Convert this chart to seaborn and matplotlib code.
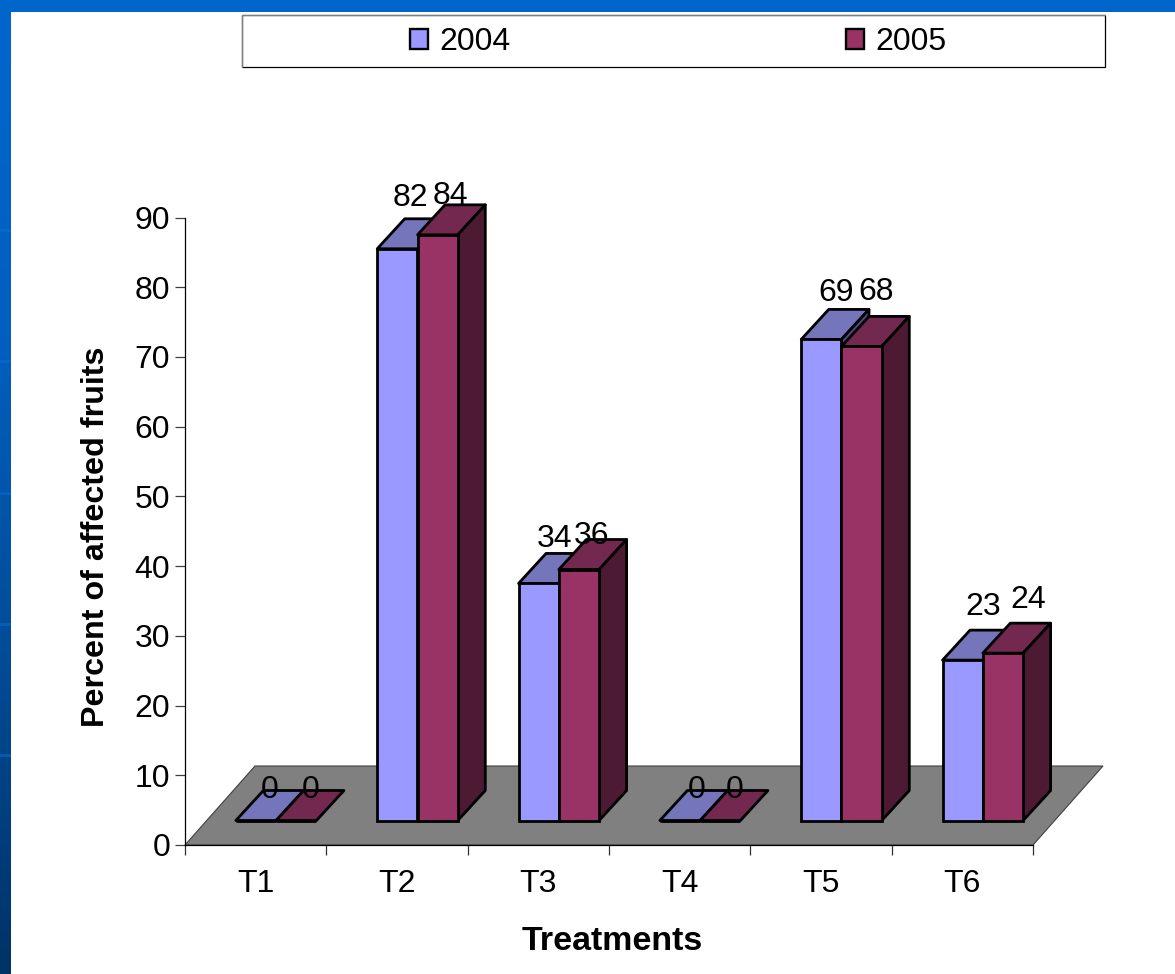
import numpy as np
import pandas as pd
import matplotlib
matplotlib.use("Agg")
import matplotlib.pyplot as plt
from matplotlib.colors import LinearSegmentedColormap
from matplotlib.patches import Patch, Polygon, Rectangle
from matplotlib.ticker import FixedLocator, NullFormatter
import seaborn as sns

# Chart values
treatments = ["T1", "T2", "T3", "T4", "T5", "T6"]
years = ["2004", "2005"]
values_2004 = [0, 82, 34, 0, 69, 23]
values_2005 = [0, 84, 36, 0, 68, 24]
y_ticks = list(range(0, 100, 10))

# Colours per series: front, top and side faces
front_colors = {"2004": "#9999FF", "2005": "#993366"}
top_colors = {"2004": "#7575BB", "2005": "#72284F"}
side_colors = {"2004": "#4D4D80", "2005": "#4D1A33"}

# Hand placement of the value labels relative to each bar top, in pixels
label_dx_2004 = [14, 13, 16, 17, 15, 20]
label_dx_2005 = [14, 13, 13, 14, 14, 25]
label_dy_2004 = [30, 51, 44, 30, 46, 53]
label_dy_2005 = [30, 39, 34, 30, 54, 53]

W, H = 1175, 974
sns.set_theme(style="white")
plt.rcParams["font.family"] = ["Liberation Sans", "DejaVu Sans"]
FONT = 23

fig = plt.figure(figsize=(W / 100, H / 100), dpi=100, facecolor="white")

# Slide backdrop: blue band on top, darkening strip on the left
bg = fig.add_axes([0, 0, 1, 1], zorder=0)
bg.set_xlim(0, W)
bg.set_ylim(H, 0)
bg.axis("off")
strip = LinearSegmentedColormap.from_list("strip", ["#0066CC", "#0060C0", "#004C99", "#003366"])
bg.imshow(np.linspace(0, 1, 256)[:, None], cmap=strip, extent=(0, 11, H, 0), aspect="auto")
bg.add_patch(Rectangle((0, 0), W, 12, color="#0066CC", lw=0))
for band_y in (230, 361, 493, 624, 755):
    bg.add_patch(Rectangle((0, band_y - 1), 11, 2.5, color="#0A6CD0", alpha=0.55, lw=0))
bg.set_xlim(0, W)
bg.set_ylim(H, 0)

# Legend frame
bg.add_patch(Rectangle((242, 15), 863, 52, fill=False, edgecolor="black", lw=0.9))
bg.plot([242, 242, 1105], [67, 15, 15], color="#808080", lw=0.9)

# Plot area
left, right, y0, y90 = 185, 1033, 845, 217.5
ax = fig.add_axes([left / W, 1 - y0 / H, (right - left) / W, (y0 - y90) / H], zorder=1)
ax.patch.set_alpha(0)

df = pd.DataFrame({
    "Treatment": treatments * 2,
    "Year": [years[0]] * 6 + [years[1]] * 6,
    "Percent": values_2004 + values_2005,
})
sns.barplot(data=df, x="Treatment", y="Percent", hue="Year", order=treatments,
            hue_order=years, palette=front_colors, saturation=1, width=0.57,
            gap=0, edgecolor="black", linewidth=2.0, legend=False, ax=ax)
ax.set_xlim(-0.5, 5.5)
ax.set_ylim(0, 90)

px_x = (right - left) / 6
px_y = (y0 - y90) / 90
shift_x = 20.5 / px_x
lift_y = 24.5 / px_y
depth_x = 27.5 / px_x
depth_y = 30 / px_y

# Floor of the 3D scene
ax.add_patch(Polygon([(-0.5, 0), (5.5, 0), (5.5 + 70 / px_x, 79 / px_y), (-0.5 + 70 / px_x, 79 / px_y)],
                     closed=True, facecolor="#808080", edgecolor="#404040", lw=0.8,
                     zorder=1, clip_on=False))

offsets = {"2004": (label_dx_2004, label_dy_2004), "2005": (label_dx_2005, label_dy_2005)}
for s, (year, container) in enumerate(zip(years, ax.containers)):
    for i, bar in enumerate(container):
        value = bar.get_height()
        bar.set_x(bar.get_x() + shift_x)
        bar.set_y(lift_y)
        bar.set_clip_on(False)
        bar.set_zorder(2.5 + s)
        x0, x1 = bar.get_x(), bar.get_x() + bar.get_width()
        top = lift_y + value
        # Top face
        ax.add_patch(Polygon([(x0, top), (x1, top), (x1 + depth_x, top + depth_y), (x0 + depth_x, top + depth_y)],
                             closed=True, facecolor=top_colors[year], edgecolor="black", lw=2.0,
                             joinstyle="round", zorder=2.2 + s, clip_on=False))
        # Side face
        if value > 0:
            ax.add_patch(Polygon([(x1, lift_y), (x1 + depth_x, lift_y + depth_y),
                                  (x1 + depth_x, top + depth_y), (x1, top)],
                                 closed=True, facecolor=side_colors[year], edgecolor="black", lw=2.0,
                                 joinstyle="round", zorder=2.2 + s, clip_on=False))
        dx, dy = offsets[year][0][i], offsets[year][1][i]
        ax.annotate(str(int(value)), xy=((x0 + x1) / 2, top), xytext=(dx * 0.72, dy * 0.72),
                    textcoords="offset points", ha="center", va="center",
                    fontsize=FONT, color="black", zorder=6, annotation_clip=False)

# Axes styling
sns.despine(ax=ax)
for side in ("left", "bottom"):
    ax.spines[side].set_linewidth(0.9)
    ax.spines[side].set_color("black")
    ax.spines[side].set_zorder(1.5)
ax.set_yticks(y_ticks)
ax.set_xticks(range(6))
ax.set_xticklabels(treatments)
ax.xaxis.set_minor_locator(FixedLocator(np.arange(-0.5, 6, 1)))
ax.xaxis.set_minor_formatter(NullFormatter())
ax.tick_params(axis="x", which="major", length=0, pad=17, labelsize=FONT, labelcolor="black")
ax.tick_params(axis="x", which="minor", bottom=True, length=7.2, width=0.9, color="#303030")
ax.tick_params(axis="y", which="major", left=True, length=7.2, width=0.9, color="#404040",
               pad=3.5, labelsize=FONT, labelcolor="black")
ax.set_xlabel("")
ax.set_ylabel("")
bg.text(612, 941, "Treatments", ha="center", va="center", fontsize=24.5, fontweight="bold", color="black")
bg.text(96, 537, "Percent of affected fruits", ha="center", va="center", rotation=90,
        fontsize=FONT + 0.2, fontweight="bold", color="black")

# Legend
handles = [Patch(facecolor=front_colors[y], edgecolor="black", lw=1.7) for y in years]
fig.legend(handles, years, loc="center", bbox_to_anchor=(678 / W, 1 - 42 / H), ncol=2, frameon=False,
           fontsize=FONT, columnspacing=10.5, handlelength=0.57, handleheight=0.57,
           handletextpad=0.35, borderpad=0, labelcolor="black")

fig.savefig("out.png", dpi=100)
